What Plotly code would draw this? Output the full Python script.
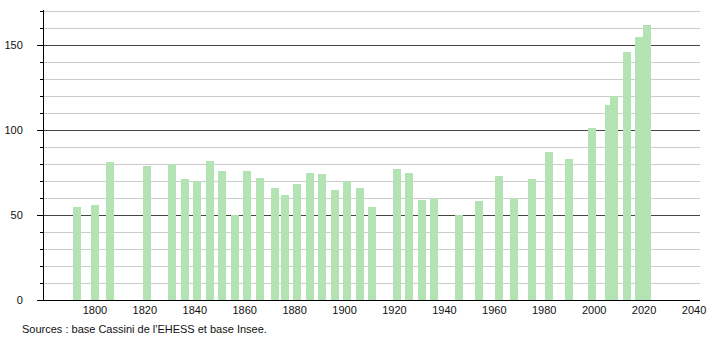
import plotly.graph_objects as go

years = [1793, 1800, 1806, 1821, 1831, 1836, 1841, 1846, 1851, 1856,
         1861, 1866, 1872, 1876, 1881, 1886, 1891, 1896, 1901, 1906,
         1911, 1921, 1926, 1931, 1936, 1946, 1954, 1962, 1968, 1975,
         1982, 1990, 1999, 2006, 2008, 2013, 2018, 2021]
population = [55, 56, 81, 79, 80, 71, 70, 82, 76, 50,
              76, 72, 66, 62, 68, 75, 74, 65, 70, 66,
              55, 77, 75, 59, 60, 50, 58, 73, 60, 71,
              87, 83, 101, 115, 120, 146, 155, 162]
x_ticks = [1800, 1820, 1840, 1860, 1880, 1900, 1920, 1940, 1960, 1980, 2000, 2020, 2040]
y_ticks = [0, 50, 100, 150]
source_text = "Sources : base Cassini de l'EHESS et base Insee."

bar_color = "#b3e3b3"
font = "Liberation Sans, Arial, sans-serif"

fig = go.Figure()
fig.add_trace(go.Bar(
    x=years[::-1], y=population[::-1],
    width=3.2,
    marker=dict(color=bar_color, line=dict(width=0)),
    hoverinfo="x+y",
))

fig.update_layout(
    width=710, height=340,
    margin=dict(l=44, r=10, t=10, b=40, autoexpand=False),
    paper_bgcolor="white", plot_bgcolor="white",
    showlegend=False,
    font=dict(family=font, size=11, color="#111"),
    bargap=0,
    xaxis=dict(
        range=[1779.6, 2042.4],
        tickvals=x_ticks,
        ticks="",
        showgrid=False,
        zeroline=False,
        automargin=False,
        showline=True, linecolor="black", linewidth=1,
        tickfont=dict(family=font, size=11, color="#111"),
        fixedrange=True,
    ),
    yaxis=dict(
        range=[0, 170.6],
        tickvals=y_ticks,
        ticks="outside", ticklen=6, tickcolor="black", tickwidth=1,
        ticklabelstandoff=12,
        showgrid=True, gridcolor="#444", gridwidth=1,
        zeroline=False,
        automargin=False,
        showline=True, linecolor="black", linewidth=1,
        tickfont=dict(family=font, size=11, color="#111"),
        minor=dict(dtick=10, showgrid=True, gridcolor="#cccccc", gridwidth=1,
                   ticks="outside", ticklen=3, tickcolor="black"),
        fixedrange=True,
    ),
    annotations=[dict(
        text=source_text, xref="paper", yref="paper",
        x=-0.037, y=-0.072, xanchor="left", yanchor="top",
        showarrow=False, font=dict(family=font, size=11, color="#111"),
    )],
)

fig.write_html("out.html")
